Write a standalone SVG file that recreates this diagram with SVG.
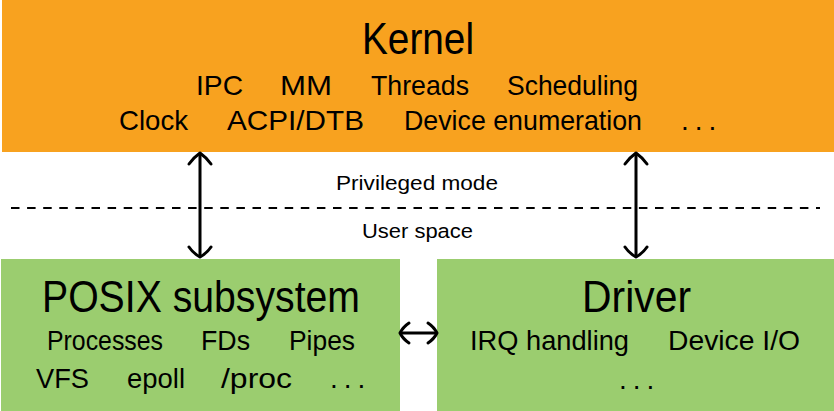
<svg xmlns="http://www.w3.org/2000/svg" width="834" height="411" viewBox="0 0 834 411">
<style>
.t{font-family:"Liberation Sans",Arial,sans-serif;fill:#000}
.big{font-size:44px}
.mid{font-size:28px}
.sm{font-size:20.5px}
.ar{fill:none;stroke:#000;stroke-width:3;stroke-linecap:round;stroke-linejoin:round}
</style>
<rect x="0" y="0" width="834" height="411" fill="#fff"/>
<g id="kernel">
<rect x="2" y="0" width="832" height="152" fill="#F8A21F"/>
<text class="t big" x="362" y="54" textLength="112" lengthAdjust="spacingAndGlyphs">Kernel</text>
<text class="t mid" x="196" y="95" textLength="47" lengthAdjust="spacingAndGlyphs">IPC</text>
<text class="t mid" x="280" y="95" textLength="52" lengthAdjust="spacingAndGlyphs">MM</text>
<text class="t mid" x="371" y="95" textLength="98" lengthAdjust="spacingAndGlyphs">Threads</text>
<text class="t mid" x="507" y="95" textLength="131" lengthAdjust="spacingAndGlyphs">Scheduling</text>
<text class="t mid" x="119" y="130" textLength="69" lengthAdjust="spacingAndGlyphs">Clock</text>
<text class="t mid" x="227" y="130" textLength="137" lengthAdjust="spacingAndGlyphs">ACPI/DTB</text>
<text class="t mid" x="404" y="130" textLength="238" lengthAdjust="spacingAndGlyphs">Device enumeration</text>
<text class="t mid" x="681" y="130" letter-spacing="6">...</text>
</g>
<g id="posix">
<rect x="1" y="259" width="399" height="152" fill="#9BCD6F"/>
<text class="t big" x="42" y="312" textLength="318" lengthAdjust="spacingAndGlyphs">POSIX subsystem</text>
<text class="t mid" x="47" y="350" textLength="116" lengthAdjust="spacingAndGlyphs">Processes</text>
<text class="t mid" x="201" y="350" textLength="49" lengthAdjust="spacingAndGlyphs">FDs</text>
<text class="t mid" x="289" y="350" textLength="66" lengthAdjust="spacingAndGlyphs">Pipes</text>
<text class="t mid" x="36" y="388" textLength="53" lengthAdjust="spacingAndGlyphs">VFS</text>
<text class="t mid" x="127" y="388" textLength="58" lengthAdjust="spacingAndGlyphs">epoll</text>
<text class="t mid" x="221" y="388" textLength="71" lengthAdjust="spacingAndGlyphs">/proc</text>
<text class="t mid" x="330" y="388" letter-spacing="6">...</text>
</g>
<g id="driver">
<rect x="437" y="259" width="397" height="152" fill="#9BCD6F"/>
<text class="t big" x="582" y="312" textLength="109" lengthAdjust="spacingAndGlyphs">Driver</text>
<text class="t mid" x="470" y="350" textLength="159" lengthAdjust="spacingAndGlyphs">IRQ handling</text>
<text class="t mid" x="668" y="350" textLength="132" lengthAdjust="spacingAndGlyphs">Device I/O</text>
<text class="t mid" x="619" y="389" letter-spacing="6">...</text>
</g>
<g id="modes">
<text class="t sm" x="336" y="190" textLength="162" lengthAdjust="spacingAndGlyphs">Privileged mode</text>
<text class="t sm" x="362" y="238" textLength="111" lengthAdjust="spacingAndGlyphs">User space</text>
<line x1="11" y1="208" x2="820" y2="208" stroke="#000" stroke-width="2.2" stroke-dasharray="8.5 7.6"/>
</g>
<g id="connectors">
<path class="ar" d="M200,155 V255"/>
<path class="ar" d="M189,164 Q193,158 200,153 Q207,158 211,164"/>
<path class="ar" d="M189,247 Q193,253 200,257 Q207,253 211,247"/>
<path class="ar" d="M636,155 V255"/>
<path class="ar" d="M625,164 Q629,158 636,153 Q643,158 647,164"/>
<path class="ar" d="M625,247 Q629,253 636,257 Q643,253 647,247"/>
<path class="ar" d="M402,333 H435"/>
<path class="ar" d="M409,323 Q403,327 400,333 Q403,339 409,343"/>
<path class="ar" d="M428,323 Q434,327 437,333 Q434,339 428,343"/>
</g>
</svg>
